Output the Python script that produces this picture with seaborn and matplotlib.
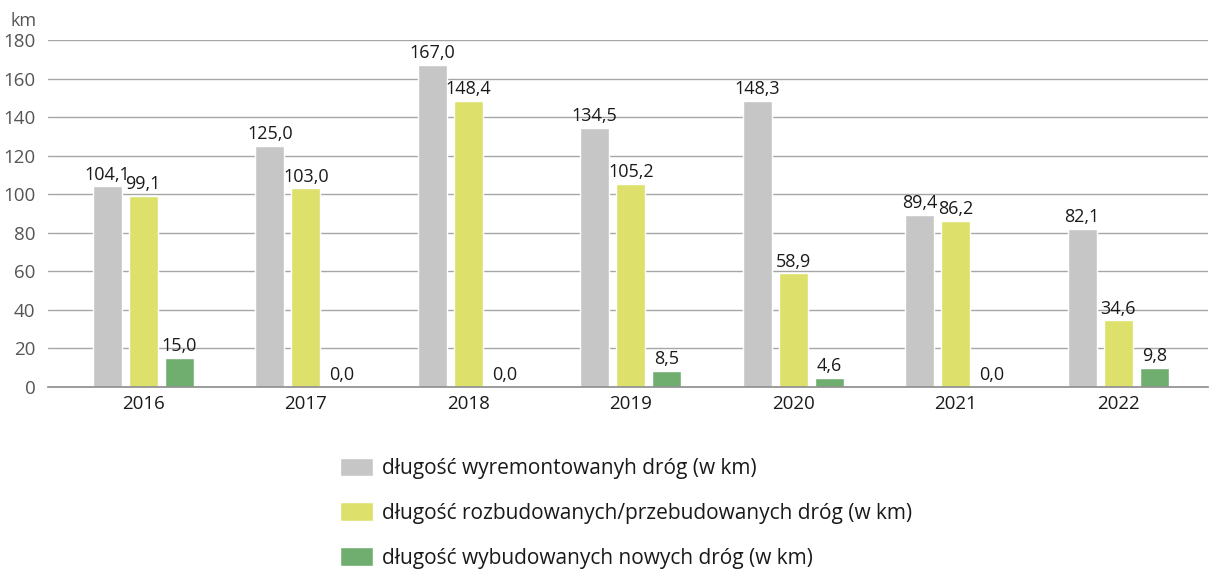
import pandas as pd
import numpy as np
import matplotlib.pyplot as plt
import seaborn as sns

# Dane
years = ['2016', '2017', '2018', '2019', '2020', '2021', '2022']
wyremontowane = [104.1, 125.0, 167.0, 134.5, 148.3, 89.4, 82.1]
rozbudowane = [99.1, 103.0, 148.4, 105.2, 58.9, 86.2, 34.6]
nowe = [15.0, 0.0, 0.0, 8.5, 4.6, 0.0, 9.8]
series = [
    'długość wyremontowanyh dróg (w km)',
    'długość rozbudowanych/przebudowanych dróg (w km)',
    'długość wybudowanych nowych dróg (w km)',
]
colors = ['#c6c6c6', '#dde06a', '#70ae70']

df = pd.DataFrame({
    'rok': years * 3,
    'seria': [series[0]] * 7 + [series[1]] * 7 + [series[2]] * 7,
    'km': wyremontowane + rozbudowane + nowe,
})

sns.set_style('white')
plt.rcParams['font.family'] = ['Open Sans', 'DejaVu Sans']

fig = plt.figure(figsize=(12.1, 5.72), dpi=100)
ax = fig.add_axes([0.0397, 0.3234, 0.9583, 0.6066])

sns.barplot(data=df, x='rok', y='km', hue='seria', hue_order=series,
            palette=colors, saturation=1, width=0.664, gap=0.2, ax=ax, legend=True)

# etykiety wartości z przecinkiem
for cont in ax.containers:
    labels = [f'{b.get_height():.1f}'.replace('.', ',') for b in cont]
    ax.bar_label(cont, labels=labels, padding=2, fontsize=13, color='#1a1a1a')

ax.set_ylim(0, 180)
ax.set_yticks(range(0, 181, 20))
ax.set_xlim(-0.586, 6.55)
ax.yaxis.grid(True, color='#a6a6a6', linewidth=1)
ax.set_axisbelow(True)
for s in ['top', 'right', 'left']:
    ax.spines[s].set_visible(False)
ax.spines['bottom'].set_color('#8c8c8c')
ax.spines['bottom'].set_linewidth(1.2)
ax.tick_params(axis='y', length=0, pad=9, labelsize=13.5, labelcolor='#555555')
ax.tick_params(axis='x', length=0, pad=6, labelsize=13.5, labelcolor='#1a1a1a')
ax.set_xlabel('')
ax.set_ylabel('')
ax.text(-0.0095, 1.03, 'km', transform=ax.transAxes, ha='right', va='bottom',
        fontsize=13, color='#555555')

handles, labels = ax.get_legend_handles_labels()
ax.legend_.remove()
fig.legend(handles, labels, loc='upper left', bbox_to_anchor=(0.281, 0.200),
           frameon=False, fontsize=15, labelspacing=1.12, handlelength=1.6,
           handleheight=1.0, handletextpad=0.43, borderpad=0, borderaxespad=0,
           labelcolor='#1a1a1a')

fig.savefig('out.png', dpi=100)
